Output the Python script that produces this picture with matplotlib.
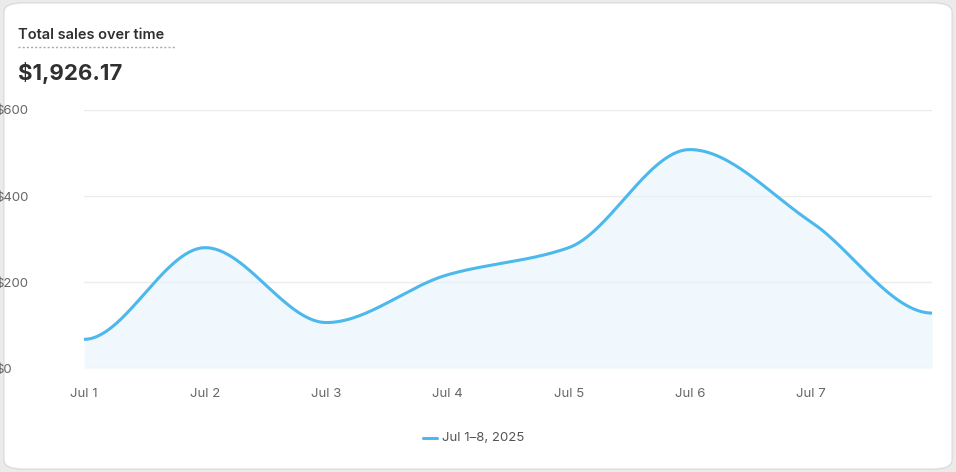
import numpy as np
import matplotlib
matplotlib.use("Agg")
import matplotlib.pyplot as plt
from matplotlib.patches import FancyBboxPatch

dates = ["Jul 1", "Jul 2", "Jul 3", "Jul 4", "Jul 5", "Jul 6", "Jul 7", "Jul 8"]
sales = [67, 280, 106, 217, 280, 508, 340, 128]
yticks = [0, 200, 400, 600]
ytick_labels = ["$0", "$200", "$400", "$600"]
total_label = "$1,926.17"
legend_label = "Jul 1–8, 2025"

def pchip(x, y, n=60):
    x = np.asarray(x, float); y = np.asarray(y, float)
    h = np.diff(x); d = np.diff(y) / h
    m = np.zeros_like(y)
    for k in range(1, len(y) - 1):
        if d[k-1] * d[k] > 0:
            w1 = 2*h[k] + h[k-1]; w2 = h[k] + 2*h[k-1]
            m[k] = (w1 + w2) / (w1/d[k-1] + w2/d[k])
    m[0] = 0; m[-1] = 0
    xs, ys = [], []
    for k in range(len(h)):
        t = np.linspace(0, 1, n)
        h00 = 2*t**3 - 3*t**2 + 1; h10 = t**3 - 2*t**2 + t
        h01 = -2*t**3 + 3*t**2; h11 = t**3 - t**2
        xs.append(x[k] + t*h[k])
        ys.append(h00*y[k] + h10*h[k]*m[k] + h01*y[k+1] + h11*h[k]*m[k+1])
    return np.concatenate(xs), np.concatenate(ys)

plt.rcParams['font.family'] = ['Inter', 'DejaVu Sans']
fig = plt.figure(figsize=(9.56, 4.72), dpi=100)
fig.patch.set_facecolor("#ebebeb")
card = FancyBboxPatch((0.004, 0.006), 0.992, 0.988, boxstyle="round,pad=0,rounding_size=0.02",
                      transform=fig.transFigure, facecolor="white", edgecolor="#dcdcdc", lw=1,
                      zorder=-10)
fig.patches.append(card)

ax = fig.add_axes([0.088, 0.22, 0.887, 0.547])
ax.set_zorder(5)
x = np.arange(len(sales))
xs, ys = pchip(x, sales)
col = "#4cb8ec"
ax.fill_between(xs, ys, 0, color="#e6f4fc", alpha=0.6, lw=0)
ax.plot(xs, ys, color=col, lw=2.2, solid_capstyle="round")
ax.set_xlim(0, len(sales) - 1)
ax.set_ylim(0, 600)
ax.set_yticks(yticks)
ax.set_yticklabels(ytick_labels)
ax.set_xticks(x[:-1])
ax.set_xticklabels(dates[:-1])
for s in ax.spines.values():
    s.set_visible(False)
ax.grid(axis="y", color="#ececec", lw=1)
ax.set_axisbelow(True)
ax.tick_params(length=0, colors="#666666", labelsize=9.5)
ax.tick_params(axis="y", pad=64)
for lbl in ax.get_yticklabels():
    lbl.set_horizontalalignment("left")
ax.tick_params(axis="x", pad=14)
ax.set_facecolor("none")

fig.text(0.019, 0.918, "Total sales over time", fontsize=10.5, fontweight="semibold", color="#303030")
fig.add_artist(plt.Line2D([0.019, 0.183], [0.9, 0.9], transform=fig.transFigure,
                          color="#aaaaaa", lw=1, ls=(0, (1.5, 1.5))))
fig.text(0.019, 0.83, total_label, fontsize=16, fontweight="bold", color="#303030")

fig.add_artist(plt.Line2D([0.442, 0.457], [0.071, 0.071], transform=fig.transFigure, color=col, lw=2.2,
                          solid_capstyle="round"))
fig.text(0.462, 0.071, legend_label, fontsize=9.5, color="#555555", va="center")

fig.savefig("out.png", dpi=100, facecolor=fig.get_facecolor())
